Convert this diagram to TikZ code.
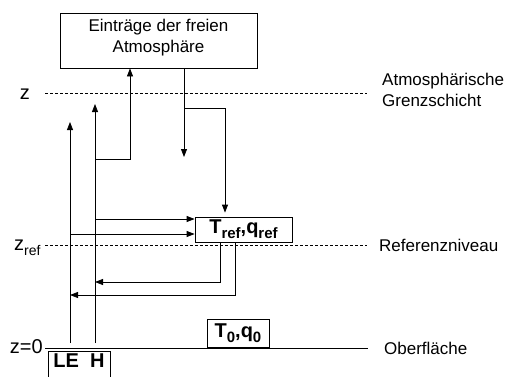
\documentclass[tikz,border=0pt]{standalone}
\usepackage{fontspec}
\setmainfont{Liberation Sans}
\usetikzlibrary{arrows.meta}
\newcommand\lowsub[2]{\raisebox{-#2}{\fontsize{#1}{#1}\selectfont\kern0.5pt #2}}
\newcommand\subtxt[1]{\raisebox{-5pt}{\fontsize{15}{15}\selectfont #1}}
\newcommand\zsub[1]{\raisebox{-5pt}{\fontsize{14}{14}\selectfont #1}}
\begin{document}
\begin{tikzpicture}[x=1pt,y=-1pt,
  ln/.style={line width=0.8pt},
  arr/.style={ln,-{Triangle[length=8pt,width=6pt]}},
  lvl/.style={ln,dash pattern=on 3pt off 2pt},
  boxn/.style={draw,ln,inner sep=0pt},
  lbl/.style={font=\fontsize{17}{21}\selectfont,inner sep=0pt},
  zlbl/.style={font=\fontsize{20}{24}\selectfont,inner sep=0pt},
  bl/.style={font=\fontsize{20}{24}\selectfont\bfseries,inner sep=0pt}]
\clip (0,0) rectangle (507,376);
% boxes
\node[boxn, minimum width=197pt, minimum height=55pt] (top) at (158.5,40.5) {};
\node[lbl, align=center] (toptxt) at (158.5,37.5) {Einträge der freien\\Atmosphäre};
\node[boxn, bl, minimum width=97pt, minimum height=25pt, text height=14pt, text depth=7pt] (tref) at (243.5,229.5) {T\subtxt{ref},q\subtxt{ref}};
\node[boxn, bl, minimum width=62pt, minimum height=28pt, text height=14pt, text depth=6pt] (tnull) at (238,333) {T\subtxt{0},q\subtxt{0}};
\node[boxn, bl, anchor=north, minimum width=62pt, inner ysep=1pt, text height=15pt, text depth=20pt] (leh) at (79,351) {LE\ \ H};
% levels
\coordinate (zl) at (45,93);
\coordinate (zr) at (367,93);
\draw[lvl] (zl) -- (zr);
\node[zlbl, anchor=base east] (zlab) at (30,99) {z};
\node[lbl, anchor=west, align=left] (abl) at (382,90) {Atmosphärische\\Grenzschicht};
\coordinate (rl) at (45,245);
\coordinate (rr) at (367,245);
\draw[lvl] (rl) -- (rr);
\node[zlbl, anchor=base west] (zreflab) at (14,250) {z\zsub{ref}};
\node[lbl, anchor=west] (reflab) at (379,245) {Referenzniveau};
\coordinate (sl) at (45,348);
\coordinate (sr) at (368,348);
\draw[ln] (sl) -- (sr);
\node[zlbl, anchor=base east] (z0lab) at (43,353) {z=0};
\node[lbl, anchor=west] (oblab) at (384,348) {Oberfläche};
% fluxes
\coordinate (le0) at (70,343);
\coordinate (le1) at (70,122);
\coordinate (h0) at (95,343);
\coordinate (h1) at (95,104);
\draw[arr] (le0) -- (le1);
\draw[arr] (h0) -- (h1);
\coordinate (hb) at (95,159);
\coordinate (up) at (130,159);
\draw[arr] (hb) -- (up) -- (top.south -| up);
\coordinate (dn) at (184,157);
\draw[arr] (top.south -| dn) -- (dn);
\coordinate (br0) at (184,108);
\coordinate (br1) at (225,108);
\draw[arr, shorten >=4pt] (br0) -- (br1) -- (tref.north -| br1);
\coordinate (hin) at (95,219);
\coordinate (lein) at (70,234);
\draw[arr] (hin) -- (tref.west |- hin);
\draw[arr] (lein) -- (tref.west |- lein);
\coordinate (ra) at (220,282);
\coordinate (rb) at (235,295);
\draw[arr] (tref.south -| ra) -- (ra) -- (ra -| h0);
\draw[arr] (tref.south -| rb) -- (rb) -- (rb -| le0);
\end{tikzpicture}
\end{document}
